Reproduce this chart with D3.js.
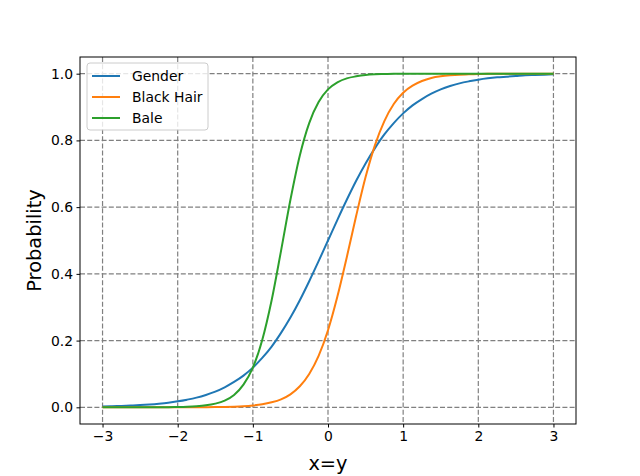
<!DOCTYPE html>
<html>
<head>
<meta charset="utf-8">
<script src="https://cdn.jsdelivr.net/npm/d3@7"></script>
<style>
  body { margin: 0; background: #fff; }
  svg { font-family: "DejaVu Sans", sans-serif; }
</style>
</head>
<body>
<svg></svg>
<script>
const width = 640;
const height = 476;
const margin = {left: 80, right: 64, top: 57, bottom: 52};

/* values */
const xValues = [-3, -2.875, -2.75, -2.625, -2.5, -2.375, -2.25, -2.125, -2, -1.875, -1.75, -1.625,
  -1.5, -1.375, -1.25, -1.125, -1, -0.875, -0.75, -0.625, -0.5, -0.375, -0.25, -0.125,
  0, 0.125, 0.25, 0.375, 0.5, 0.625, 0.75, 0.875, 1, 1.125, 1.25, 1.375,
  1.5, 1.625, 1.75, 1.875, 2, 2.125, 2.25, 2.375, 2.5, 2.625, 2.75, 2.875, 3];
const gender = [0.0025, 0.0032, 0.004, 0.0052, 0.0067, 0.0086, 0.011, 0.014, 0.018, 0.023, 0.029, 0.037,
  0.047, 0.060, 0.076, 0.095, 0.119, 0.148, 0.182, 0.223, 0.269, 0.321, 0.378, 0.438,
  0.5, 0.562, 0.622, 0.679, 0.731, 0.777, 0.818, 0.852, 0.881, 0.905, 0.924, 0.940,
  0.953, 0.963, 0.971, 0.977, 0.982, 0.986, 0.989, 0.991, 0.993, 0.995, 0.996, 0.997, 0.998];
const blackHair = [0, 0, 0, 0, 0, 0, 0, 0.0001, 0.0001, 0.0002, 0.0003, 0.0005,
  0.0007, 0.0012, 0.002, 0.0033, 0.0055, 0.009, 0.015, 0.024, 0.039, 0.063, 0.100, 0.154,
  0.231, 0.332, 0.450, 0.574, 0.690, 0.786, 0.858, 0.909, 0.943, 0.964, 0.978, 0.987,
  0.992, 0.995, 0.997, 0.998, 0.999, 1, 1, 1, 1, 1, 1, 1, 1];
const bale = [0, 0, 0, 0, 0.0001, 0.0001, 0.0003, 0.0005, 0.0009, 0.0017, 0.0032, 0.0059,
  0.011, 0.020, 0.037, 0.068, 0.119, 0.202, 0.321, 0.469, 0.622, 0.755, 0.852, 0.915,
  0.953, 0.974, 0.986, 0.992, 0.996, 0.998, 0.999, 1, 1, 1, 1, 1,
  1, 1, 1, 1, 1, 1, 1, 1, 1, 1, 1, 1, 1];
const seriesNames = ['Gender', 'Black Hair', 'Bale'];
const colors = ['#1f77b4', '#ff7f0e', '#2ca02c'];
const xTicks = [-3, -2, -1, 0, 1, 2, 3];
const yTicks = [0, 0.2, 0.4, 0.6, 0.8, 1.0];

const series = [gender, blackHair, bale].map((vals, i) => ({
  name: seriesNames[i],
  color: colors[i],
  points: vals.map((v, j) => ({x: xValues[j], y: v}))
}));

const svg = d3.select('svg')
  .attr('width', width)
  .attr('height', height);

const xScale = d3.scaleLinear()
  .domain([-3.3, 3.3])
  .range([margin.left, width - margin.right]);

const yScale = d3.scaleLinear()
  .domain([-0.05, 1.05])
  .range([height - margin.bottom, margin.top]);

/* grid */
const grid = svg.append('g').attr('stroke', '#808080').attr('stroke-width', 1.2)
  .attr('stroke-dasharray', '5,2.2');
grid.selectAll('line.vx')
  .data(xTicks)
  .enter().append('line')
    .attr('x1', d => xScale(d)).attr('x2', d => xScale(d))
    .attr('y1', margin.top).attr('y2', height - margin.bottom);
grid.selectAll('line.hy')
  .data(yTicks)
  .enter().append('line')
    .attr('y1', d => yScale(d)).attr('y2', d => yScale(d))
    .attr('x1', margin.left).attr('x2', width - margin.right);

/* curves */
const line = d3.line()
  .x(d => xScale(d.x))
  .y(d => yScale(d.y))
  .curve(d3.curveMonotoneX);

svg.append('g')
  .selectAll('path')
  .data(series)
  .enter().append('path')
    .attr('d', d => line(d.points))
    .attr('fill', 'none')
    .attr('stroke', d => d.color)
    .attr('stroke-width', 2);

/* frame */
svg.append('rect')
  .attr('x', margin.left).attr('y', margin.top)
  .attr('width', width - margin.left - margin.right)
  .attr('height', height - margin.top - margin.bottom)
  .attr('fill', 'none').attr('stroke', '#000').attr('stroke-width', 1);

/* axes */
const fmtX = d => d3.format('d')(d).replace('-', '\u2212');
const xAxis = d3.axisBottom(xScale).tickValues(xTicks).tickFormat(fmtX).tickSize(3.5).tickPadding(3.5);
const yAxis = d3.axisLeft(yScale).tickValues(yTicks).tickFormat(d3.format('.1f')).tickSize(3.5).tickPadding(3.5);

svg.append('g')
  .attr('transform', `translate(0, ${height - margin.bottom})`)
  .call(xAxis)
  .call(g => g.select('.domain').remove())
  .selectAll('text').attr('font-size', 13.9).attr('fill', '#000')
  .attr('font-family', '"DejaVu Sans", sans-serif');

svg.append('g')
  .attr('transform', `translate(${margin.left}, 0)`)
  .call(yAxis)
  .call(g => g.select('.domain').remove())
  .selectAll('text').attr('font-size', 13.9).attr('fill', '#000')
  .attr('font-family', '"DejaVu Sans", sans-serif');

/* axis labels */
svg.append('text')
  .attr('x', (margin.left + width - margin.right) / 2)
  .attr('y', 470)
  .attr('text-anchor', 'middle')
  .attr('font-size', 19.4)
  .text('x=y');

svg.append('text')
  .attr('transform', `translate(41, ${(margin.top + height - margin.bottom) / 2}) rotate(-90)`)
  .attr('text-anchor', 'middle')
  .attr('font-size', 19.4)
  .text('Probability');

/* legend */
const legend = svg.append('g').attr('transform', 'translate(87, 63)');
legend.append('rect')
  .attr('width', 121).attr('height', 67)
  .attr('rx', 3)
  .attr('fill', '#fff').attr('fill-opacity', 0.8)
  .attr('stroke', '#ccc').attr('stroke-width', 1);

const items = legend.selectAll('g.item')
  .data(series)
  .enter().append('g')
    .attr('transform', (d, i) => `translate(0, ${13 + i * 21})`);
items.append('line')
  .attr('x1', 5).attr('x2', 33)
  .attr('stroke', d => d.color).attr('stroke-width', 2);
items.append('text')
  .attr('x', 45).attr('dy', '0.35em')
  .attr('font-size', 13.9)
  .text(d => d.name);
</script>
</body>
</html>
